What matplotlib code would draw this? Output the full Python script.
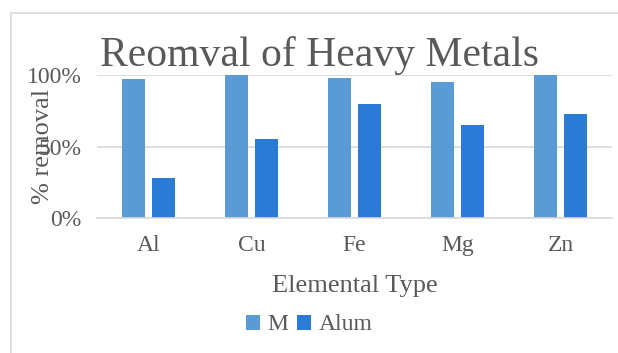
import matplotlib

matplotlib.use("Agg")
import matplotlib.pyplot as plt
import numpy as np
from matplotlib.patches import Rectangle
from matplotlib.ticker import FuncFormatter

elements = ["Al", "Cu", "Fe", "Mg", "Zn"]
m_removal = [0.97, 1.00, 0.98, 0.95, 1.00]
alum_removal = [0.28, 0.55, 0.80, 0.65, 0.73]

plt.rcParams["font.family"] = ["Liberation Serif", "DejaVu Serif"]
text_color = "#595959"

fig = plt.figure(figsize=(6.18, 3.53), dpi=100)
# outer chart frame
fig.patches.append(Rectangle((11 / 618, -0.05), 1.1, 1 - 13 / 353 + 0.05,
                             transform=fig.transFigure, fill=False,
                             edgecolor="#d9d9d9", linewidth=1.2))

ax = fig.add_axes([97 / 618, 1 - 218 / 353, 515 / 618, 143 / 353])
x = np.arange(len(elements))
w = 0.225
ax.bar(x - w / 2 - 0.035, m_removal, w, color="#5b9bd5", label="M")
ax.bar(x + w / 2 + 0.035, alum_removal, w, color="#2a7ad6", label="Alum")

ax.set_xlim(-0.5, len(elements) - 0.5)
ax.set_ylim(0, 1.0)
ax.set_yticks([0, 0.5, 1.0])
ax.yaxis.set_major_formatter(FuncFormatter(lambda v, _: f"{v:.0%}"))
ax.set_xticks(x)
ax.set_xticklabels(elements)
ax.grid(axis="y", color="#d9d9d9", linewidth=1.2)
ax.set_axisbelow(True)
for s in ["top", "right", "left"]:
    ax.spines[s].set_visible(False)
ax.spines["bottom"].set_color("#d9d9d9")
ax.spines["bottom"].set_linewidth(1.2)
ax.tick_params(length=0, labelsize=17, colors=text_color)
ax.tick_params(axis="x", pad=12)
ax.tick_params(axis="y", pad=11)

ax.set_xlabel("Elemental Type", fontsize=19, color=text_color, labelpad=14)
ax.set_ylabel("% removal", fontsize=19, color=text_color)
ax.yaxis.set_label_coords(-0.083, 0.5)
fig.text(100 / 618, 1 - 66 / 353, "Reomval of Heavy Metals", fontsize=30,
         color=text_color, ha="left", va="baseline")

fig.legend(loc="center", bbox_to_anchor=(0.5, 1 - 325 / 353), ncol=2,
           frameon=False, fontsize=17, labelcolor=text_color, handlelength=0.6,
           handleheight=0.6, handletextpad=0.3, columnspacing=0.4)

fig.savefig("out.png", dpi=100)
